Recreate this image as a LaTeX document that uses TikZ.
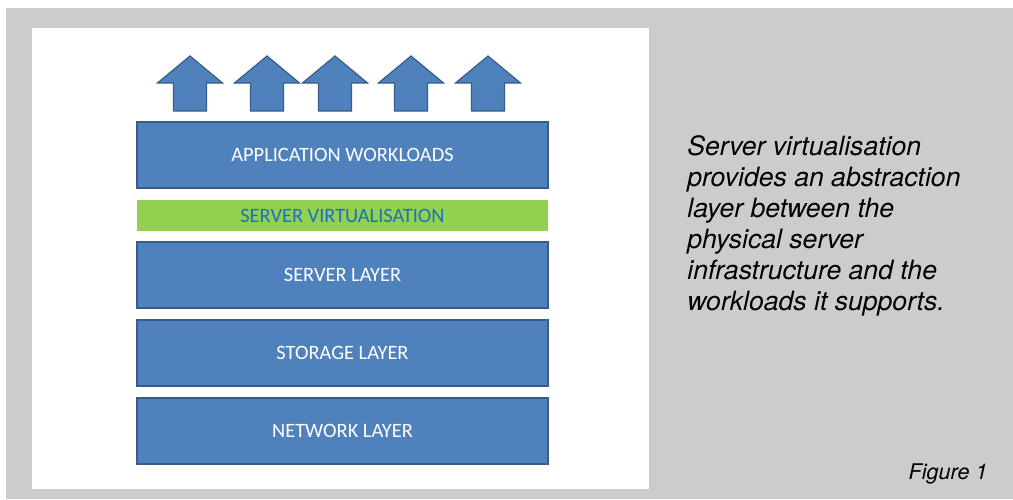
\documentclass[tikz,border=0pt]{standalone}
\usepackage{fontspec}
\usetikzlibrary{positioning}
\newfontfamily\layerfont{Carlito}
\newfontfamily\notefont{TeX Gyre Heros}
\definecolor{layerblue}{HTML}{4F81BD}
\definecolor{layeredge}{HTML}{385D8A}
\definecolor{virtgreen}{HTML}{92D050}
\definecolor{virttext}{HTML}{1F6FC0}
\definecolor{panelgray}{HTML}{CCCCCC}

\tikzset{
  layer/.style={draw=layeredge, fill=layerblue, line width=0.7pt,
    minimum width=205.5pt, minimum height=33pt, inner sep=0pt, outer sep=0pt,
    text=white, font=\layerfont\fontsize{10.2}{12}\selectfont},
  virtband/.style={fill=virtgreen, minimum width=205.5pt, minimum height=15.5pt,
    inner sep=0pt, outer sep=0pt, text=virttext, font=\layerfont\fontsize{10.2}{12}\selectfont},
  uparrow/.style={draw=layeredge, fill=layerblue, line width=0.6pt, line join=miter},
}

\begin{document}
\begin{tikzpicture}[x=0.5pt,y=-0.5pt,node distance=6pt]
  \useasboundingbox (0,0) rectangle (1013,499);
  % grey frame and white panel
  \fill[panelgray] (6,8) rectangle (1013,499);
  \fill[white] (32,28) rectangle (649,489);
  % stack of layers
  \node[layer] (app) at (342.5,155) {APPLICATION WORKLOADS};
  \node[virtband, below=6pt of app] (virt) {SERVER VIRTUALISATION};
  \node[layer, below=5.5pt of virt] (server) {SERVER LAYER};
  \node[layer, below=of server] (storage) {STORAGE LAYER};
  \node[layer, below=of storage] (network) {NETWORK LAYER};
  % arrows on top
  \foreach \cx in {190,267,335,411,488}
    \draw[uparrow] (\cx,56) -- (\cx+32.5,83) -- (\cx+16.5,83) -- (\cx+16.5,111)
      -- (\cx-16.5,111) -- (\cx-16.5,83) -- (\cx-32.5,83) -- cycle;
  % text on the right
  \node[anchor=north west, align=left, inner sep=0pt,
    font=\notefont\itshape\fontsize{13.3}{15.5}\selectfont] (note) at (687,135)
    {Server virtualisation\\provides an abstraction\\layer between the\\physical server\\infrastructure and the\\workloads it supports.};
  \node[anchor=base east, inner sep=0pt,
    font=\notefont\itshape\fontsize{10.8}{13}\selectfont] (fig) at (988,479) {Figure 1};
\end{tikzpicture}
\end{document}
